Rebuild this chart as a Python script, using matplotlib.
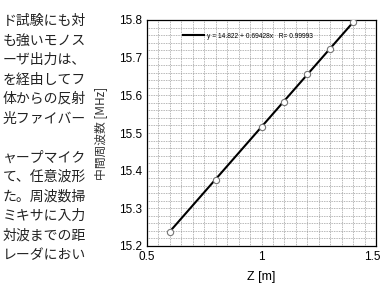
import matplotlib
matplotlib.use("Agg")
import matplotlib.pyplot as plt
from matplotlib.ticker import MultipleLocator, FixedLocator
from matplotlib.transforms import ScaledTranslation
import numpy as np

# measured points
z = [0.6, 0.8, 1.0, 1.1, 1.2, 1.3, 1.4]
f_if = [15.237, 15.374, 15.517, 15.583, 15.656, 15.724, 15.796]

# linear fit shown in legend
a0 = 14.822
a1 = 0.69428
r = 0.99993

xticks = [0.5, 1.0, 1.5]
xticklabels = ["0.5", "1", "1.5"]
yticks = [15.2, 15.3, 15.4, 15.5, 15.6, 15.7, 15.8]

# cropped body text on the left of the page
body = ["ド試験にも対", "も強いモノス", "ーザ出力は、", "を経由してフ",
        "体からの反射", "光ファイバー", "", "ャープマイク", "て、任意波形",
        "た。周波数掃", "ミキサに入力", "対波までの距", "レーダにおい"]

W, H = 382, 287
fig = plt.figure(figsize=(W/100, H/100), dpi=100)
fig.patch.set_facecolor("white")

for i, line in enumerate(body):
    y = 21 + 19.5*i
    fig.text(86/W, 1 - y/H, line, ha="right", va="center",
             fontsize=10, family=["Noto Sans CJK JP", "DejaVu Sans"], color="#222222")

ax = fig.add_axes([147/W, 1 - 246/H, 229/W, 226/H])

xf = np.array([z[0], z[-1]])
ax.plot(xf, a0 + a1*xf, color="black", lw=1.5, zorder=3,
        label="y = %.3f + %.5fx   R= %.5f" % (a0, a1, r))
ax.plot(z, f_if, "o", ms=4.5, mfc="white", mec="#777777", mew=0.8, zorder=4)

ax.set_xlim(0.5, 1.5)
ax.set_ylim(15.2, 15.8)
ax.xaxis.set_major_locator(FixedLocator(xticks))
ax.set_xticklabels(xticklabels)
ax.set_yticks(yticks)
ax.xaxis.set_minor_locator(MultipleLocator(0.05))
ax.yaxis.set_minor_locator(MultipleLocator(0.02))
ax.grid(True, which="both", color="#8a8a8a", ls=(0, (1, 1.2)), lw=0.55)
ax.tick_params(which="both", direction="in", length=0, labelsize=8.5, pad=3.5)
for lab in ax.get_xticklabels() + ax.get_yticklabels():
    lab.set_family("Liberation Sans")
# keep the last x label inside the picture
last = ax.get_xticklabels()[-1]
last.set_transform(last.get_transform() + ScaledTranslation(-4/100, 0, fig.dpi_scale_trans))
for s in ax.spines.values():
    s.set_linewidth(0.9)

ax.set_xlabel("Z [m]", fontsize=9, family="Liberation Sans")
ax.xaxis.set_label_coords(0.5, -0.11)
ax.set_ylabel("中間周波数 [MHz]", fontsize=8.5, color="#333333",
              family=["Noto Sans CJK JP", "DejaVu Sans"])
ax.yaxis.set_label_coords(-0.175, 0.5)

ax.legend(loc="upper left", bbox_to_anchor=(0.13, 0.97), frameon=False,
          handlelength=3.2, handletextpad=0.4,
          prop={"family": "Liberation Sans", "size": 4.8})

fig.savefig("out.png", dpi=100)
